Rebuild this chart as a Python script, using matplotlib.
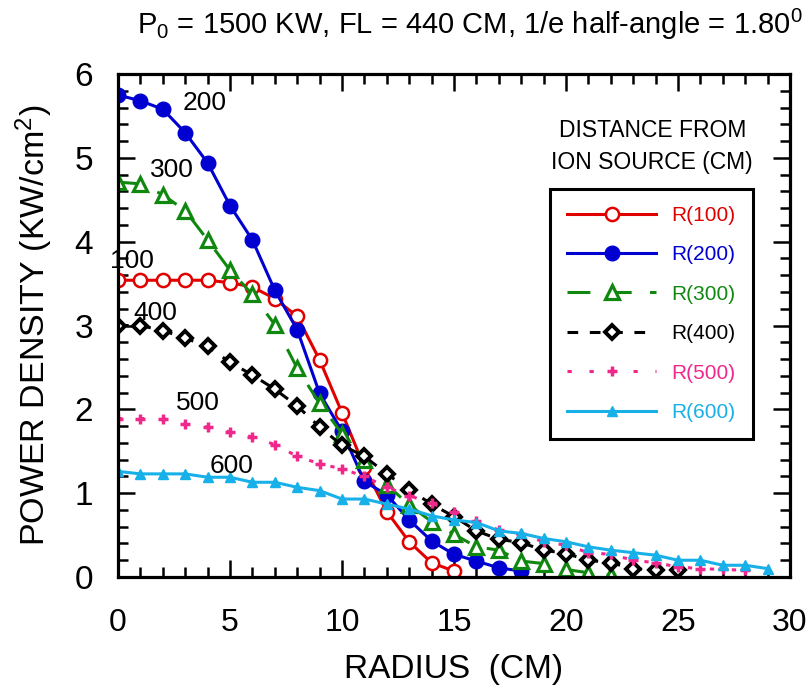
import matplotlib
matplotlib.use("Agg")
import matplotlib.pyplot as plt
from matplotlib.ticker import MultipleLocator

plt.rcParams['font.family'] = "Liberation Sans"
plt.rcParams['mathtext.default'] = 'regular'

# donnees
r100 = [0, 1, 2, 3, 4, 5, 6, 7, 8, 9, 10, 11, 12, 13, 14, 15]
p100 = [3.54, 3.54, 3.54, 3.54, 3.54, 3.51, 3.46, 3.32, 3.11, 2.59, 1.96, 1.31, 0.78, 0.42, 0.17, 0.07]

r200 = [0, 1, 2, 3, 4, 5, 6, 7, 8, 9, 10, 11, 12, 13, 14, 15, 16, 17, 18]
p200 = [5.75, 5.68, 5.58, 5.30, 4.94, 4.43, 4.02, 3.42, 2.95, 2.19, 1.74, 1.14, 0.98, 0.68, 0.43, 0.27, 0.19, 0.11, 0.07]

r300 = [0, 1, 2, 3, 4, 5, 6, 7, 8, 9, 10, 11, 12, 13, 14, 15, 16, 17, 18, 19, 20, 21, 22]
p300 = [4.71, 4.69, 4.56, 4.37, 4.02, 3.66, 3.37, 3.01, 2.49, 2.07, 1.71, 1.40, 1.10, 0.86, 0.66, 0.51, 0.36, 0.32, 0.19, 0.16, 0.09, 0.05, 0.02]

r400 = [0, 1, 2, 3, 4, 5, 6, 7, 8, 9, 10, 11, 12, 13, 14, 15, 16, 17, 18, 19, 20, 21, 22, 23, 24, 25]
p400 = [3.00, 3.00, 2.94, 2.85, 2.75, 2.56, 2.41, 2.24, 2.04, 1.79, 1.57, 1.44, 1.23, 1.04, 0.87, 0.72, 0.55, 0.45, 0.41, 0.32, 0.28, 0.20, 0.17, 0.10, 0.08, 0.08]

r500 = [0, 1, 2, 3, 4, 5, 6, 7, 8, 9, 10, 11, 12, 13, 14, 15, 16, 17, 18, 19, 20, 21, 22, 23, 24, 25, 26, 27, 28]
p500 = [1.89, 1.89, 1.89, 1.82, 1.79, 1.73, 1.67, 1.58, 1.44, 1.35, 1.29, 1.20, 1.07, 0.97, 0.88, 0.77, 0.67, 0.56, 0.51, 0.42, 0.38, 0.29, 0.27, 0.20, 0.17, 0.12, 0.10, 0.09, 0.08]

r600 = [0, 1, 2, 3, 4, 5, 6, 7, 8, 9, 10, 11, 12, 13, 14, 15, 16, 17, 18, 19, 20, 21, 22, 23, 24, 25, 26, 27, 28, 29]
p600 = [1.26, 1.23, 1.23, 1.23, 1.19, 1.19, 1.13, 1.13, 1.07, 1.03, 0.93, 0.93, 0.87, 0.81, 0.73, 0.68, 0.65, 0.55, 0.52, 0.46, 0.42, 0.36, 0.32, 0.29, 0.26, 0.20, 0.20, 0.14, 0.14, 0.10]

etiquettes = ["R(100)", "R(200)", "R(300)", "R(400)", "R(500)", "R(600)"]
annot_txt = ["100", "200", "300", "400", "500", "600"]
annot_x = [0.6, 3.85, 2.4, 1.65, 3.55, 5.05]
annot_y = [3.77, 5.66, 4.86, 3.15, 2.08, 1.32]

rouge = "#e00000"
bleu = "#0000d0"
vert = "#108810"
noir = "#000000"
rose = "#f0288c"
cyan = "#18b0e8"

fig = plt.figure(figsize=(8.12, 6.88), dpi=100)
ax = fig.add_axes([118/812, 1 - 577/688, 672/812, 503/688])

lw = 2.2
ax.plot(r100, p100, color=rouge, lw=lw, marker='o', ms=9.5, mfc='white', mec=rouge, mew=1.8, label=etiquettes[0])
ax.plot(r200, p200, color=bleu, lw=lw, marker='o', ms=10.5, mfc=bleu, mec=bleu, label=etiquettes[1])
ax.plot(r300, p300, color=vert, lw=lw, ls=(0, (7.5, 6)), marker='^', ms=10, mfc='white', mec=vert, mew=2.3, label=etiquettes[2])
ax.plot(r400, p400, color=noir, lw=lw, ls=(0, (3.5, 3.8)), marker='D', ms=7, mfc='white', mec=noir, mew=2.8, label=etiquettes[3])
ax.plot(r500, p500, color=rose, lw=lw, ls=(0, (1.4, 5.8)), marker='+', ms=7.5, mec=rose, mew=2.5, label=etiquettes[4])
ax.plot(r600, p600, color=cyan, lw=lw, marker='^', ms=6.5, mfc=cyan, mec=cyan, label=etiquettes[5])

for t, x, y in zip(annot_txt, annot_x, annot_y):
    ax.text(x, y, t, fontsize=19, ha='center', va='center')

ax.set_xlim(0, 30)
ax.set_ylim(0, 6)
ax.xaxis.set_major_locator(MultipleLocator(5))
ax.xaxis.set_minor_locator(MultipleLocator(1))
ax.yaxis.set_major_locator(MultipleLocator(1))
ax.yaxis.set_minor_locator(MultipleLocator(0.2))
ax.tick_params(which='both', direction='in', top=True, right=True, width=1.8)
ax.tick_params(which='major', length=12)
ax.tick_params(which='minor', length=7)
ax.tick_params(axis='x', labelsize=23, pad=22)
ax.tick_params(axis='y', labelsize=24, pad=18)
for s in ax.spines.values():
    s.set_linewidth(2.3)

ax.set_xlabel("RADIUS  (CM)", fontsize=24, labelpad=12)
ax.set_ylabel("POWER DENSITY (KW/cm$^2$)", fontsize=24.5, labelpad=14)
fig.text(470/812, 1 - 24/688, r"P$_0$ = 1500 KW, FL = 440 CM, 1/e half-angle = 1.80$^0$",
         fontsize=21, ha='center', va='center')

ax.text(0.795, 0.855, "DISTANCE FROM\nION SOURCE (CM)", transform=ax.transAxes,
        fontsize=16.5, ha='center', va='center', linespacing=1.5)

leg = ax.legend(loc='upper left', bbox_to_anchor=(0.643, 0.771, 0.302, 0.0), mode='expand',
                borderaxespad=0, fontsize=15, numpoints=1, handlelength=4.3,
                handletextpad=0.7, labelspacing=0.98, borderpad=0.8,
                fancybox=False, framealpha=1, edgecolor='black')
leg.get_frame().set_linewidth(2.2)
for txt, ligne in zip(leg.get_texts(), leg.get_lines()):
    txt.set_color(ligne.get_color())

fig.savefig("out.png", dpi=100)
